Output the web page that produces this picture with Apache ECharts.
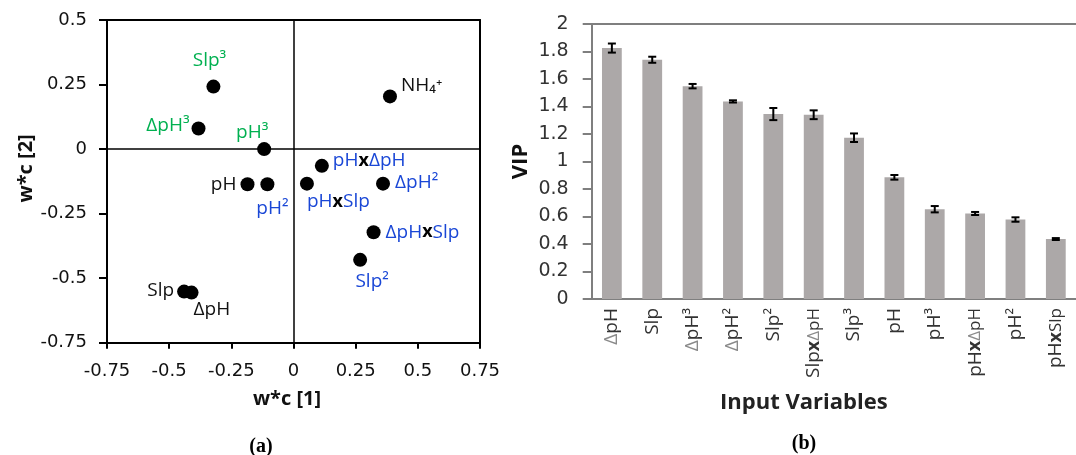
<!DOCTYPE html>
<html>
<head>
<meta charset="utf-8">
<script src="https://cdn.jsdelivr.net/npm/echarts@6/dist/echarts.min.js"></script>
<style>
  html, body { margin: 0; padding: 0; background: #fff; }
  #chart { width: 1076px; height: 455px; }
</style>
</head>
<body>
<div id="chart"></div>
<script>
// (a) PLS loading weights w*c for the first two components
const loadingNames = ['NH₄⁺', 'Slp³', 'ΔpH³', 'pH³', 'pHxΔpH', 'pH', 'pH²', 'pHxSlp', 'ΔpH²', 'ΔpHxSlp', 'Slp²', 'Slp', 'ΔpH'];
const wc1 = [0.388, -0.322, -0.382, -0.118, 0.114, -0.185, -0.105, 0.054, 0.360, 0.322, 0.268, -0.440, -0.410];
const wc2 = [0.204, 0.242, 0.080, 0.000, -0.065, -0.136, -0.136, -0.134, -0.134, -0.322, -0.429, -0.552, -0.556];
const wcTicks = [-0.75, -0.5, -0.25, 0, 0.25, 0.5, 0.75];

// (b) variable importance in projection, with error bars
const vipVars = ['ΔpH', 'Slp', 'ΔpH³', 'ΔpH²', 'Slp²', 'SlpxΔpH', 'Slp³', 'pH', 'pH³', 'pHxΔpH', 'pH²', 'pHxSlp'];
const vipMean = [1.825, 1.740, 1.548, 1.437, 1.345, 1.340, 1.173, 0.885, 0.653, 0.622, 0.578, 0.436];
const vipErr  = [0.033, 0.022, 0.016, 0.008, 0.044, 0.032, 0.031, 0.017, 0.023, 0.011, 0.016, 0.007];
const vipTicks = [0, 0.2, 0.4, 0.6, 0.8, 1, 1.2, 1.4, 1.6, 1.8, 2];

// label colour groups and placement (anchor offset from the marker centre)
const GREEN = '#00b050', BLUE = '#1a47d6', BLACK = '#111111';
const labelLayout = {
  'NH₄⁺':    { color: BLACK, align: 'left',   dx: 11,  dy: -11 },
  'Slp³':    { color: GREEN, align: 'center', dx: -4,  dy: -26 },
  'ΔpH³':    { color: GREEN, align: 'right',  dx: -9,  dy: -3 },
  'pH³':     { color: GREEN, align: 'center', dx: -12, dy: -16 },
  'pHxΔpH':  { color: BLUE,  align: 'left',   dx: 11,  dy: -5 },
  'pH':      { color: BLACK, align: 'right',  dx: -11, dy: 0 },
  'pH²':     { color: BLUE,  align: 'center', dx: 5,   dy: 24 },
  'pHxSlp':  { color: BLUE,  align: 'left',   dx: 0,   dy: 18 },
  'ΔpH²':    { color: BLUE,  align: 'left',   dx: 12,  dy: -1 },
  'ΔpHxSlp': { color: BLUE,  align: 'left',   dx: 12,  dy: 0 },
  'Slp²':    { color: BLUE,  align: 'center', dx: 12,  dy: 22 },
  'Slp':     { color: BLACK, align: 'right',  dx: -10, dy: -1 },
  'ΔpH':     { color: BLACK, align: 'left',   dx: 2,   dy: 17 }
};

const SANS = '"Open Sans", sans-serif';
const NUM = '"DejaVu Sans", sans-serif';
const SERIF = '"Liberation Serif", serif';

function richName(s) {
  const i = s.indexOf('x');
  if (i < 0) return '{t|' + s + '}';
  return '{t|' + s.slice(0, i) + '}{x|x}{t|' + s.slice(i + 1) + '}';
}

const scatterData = loadingNames.map((n, i) => {
  const l = labelLayout[n];
  return {
    name: n,
    value: [wc1[i], wc2[i]],
    label: {
      show: true,
      position: 'inside',
      align: l.align,
      verticalAlign: 'middle',
      offset: [l.dx, l.dy],
      formatter: richName(n),
      rich: {
        t: { color: l.color, fontSize: 19, fontFamily: SANS },
        x: { color: '#000', fontSize: 18, fontFamily: SANS, fontWeight: 'bold' }
      }
    }
  };
});

// category labels: Δ drawn lighter, the part after "x" slightly smaller
function varLabel(s) {
  const tok = (str, small) => str.split(/(Δ)/).filter(Boolean)
    .map(seg => seg === 'Δ' ? '{' + (small ? 'sd' : 'd') + '|Δ}' : '{' + (small ? 's' : 'n') + '|' + seg + '}')
    .join('');
  const i = s.indexOf('x');
  if (i < 0) return tok(s, false);
  return tok(s.slice(0, i), false) + '{x|x}' + tok(s.slice(i + 1), true);
}

const chart = echarts.init(document.getElementById('chart'), null, { renderer: 'canvas' });

const boxLine = { show: true, onZero: false, lineStyle: { color: '#000', width: 2 } };
const greyAxis = { show: true, onZero: false, lineStyle: { color: '#7f7f7f', width: 2 } };

chart.setOption({
  backgroundColor: '#fff',
  animation: false,
  title: [
    { text: '(a)', left: 256, top: 432, textAlign: 'center',
      textStyle: { fontFamily: SERIF, fontWeight: 'bold', fontSize: 20, color: '#000' } },
    { text: '(b)', left: 799, top: 429, textAlign: 'center',
      textStyle: { fontFamily: SERIF, fontWeight: 'bold', fontSize: 20, color: '#000' } }
  ],
  grid: [
    { left: 107, top: 20, width: 373, height: 322.7 },
    { left: 591.7, top: 24, width: 490, height: 275 }
  ],
  xAxis: [
    {
      gridIndex: 0, type: 'value', position: 'bottom',
      min: wcTicks[0], max: wcTicks[wcTicks.length - 1], interval: 0.25,
      axisLine: boxLine,
      axisTick: { show: true, inside: false, length: 6, lineStyle: { color: '#000', width: 2 } },
      axisLabel: { margin: 20, fontSize: 18, fontFamily: NUM, color: '#111' },
      splitLine: { show: false },
      name: 'w*c [1]', nameLocation: 'middle', nameGap: 47,
      nameTextStyle: { fontSize: 20, fontWeight: 'bold', fontFamily: SANS, color: '#111', padding: [0, 13, 0, 0] }
    },
    {
      gridIndex: 0, type: 'value', position: 'top',
      min: wcTicks[0], max: wcTicks[wcTicks.length - 1],
      axisLine: boxLine, axisTick: { show: false }, axisLabel: { show: false }, splitLine: { show: false }
    },
    {
      gridIndex: 1, type: 'category', data: vipVars, position: 'bottom',
      axisLine: greyAxis,
      axisTick: { show: false },
      axisLabel: {
        rotate: 90, margin: 9, interval: 0,
        formatter: varLabel,
        rich: {
          n: { color: '#333333', fontSize: 19, fontFamily: SANS },
          d: { color: '#8a8a8a', fontSize: 19, fontFamily: SANS },
          s: { color: '#333333', fontSize: 17, fontFamily: SANS },
          sd: { color: '#8a8a8a', fontSize: 17, fontFamily: SANS },
          x: { color: '#333333', fontSize: 18, fontFamily: SANS, fontWeight: 'bold' }
        }
      },
      name: 'Input Variables', nameLocation: 'middle', nameGap: 93,
      nameTextStyle: { fontSize: 22, fontWeight: 'bold', fontFamily: SANS, color: '#222', padding: [0, 60, 0, 0] }
    },
    {
      gridIndex: 1, type: 'category', data: vipVars, position: 'top',
      axisLine: greyAxis, axisTick: { show: false }, axisLabel: { show: false }, splitLine: { show: false }
    }
  ],
  yAxis: [
    {
      gridIndex: 0, type: 'value', position: 'left',
      min: -0.75, max: 0.5, interval: 0.25,
      axisLine: boxLine,
      axisTick: { show: true, inside: false, length: 8, lineStyle: { color: '#000', width: 2 } },
      axisLabel: { margin: 20, fontSize: 18, fontFamily: NUM, color: '#111' },
      splitLine: { show: false },
      name: 'w*c [2]', nameLocation: 'middle', nameGap: 66, nameRotate: 90,
      nameTextStyle: { fontSize: 20, fontWeight: 'bold', fontFamily: SANS, color: '#111', padding: [0, 0, 0, 26] }
    },
    {
      gridIndex: 0, type: 'value', position: 'right',
      min: -0.75, max: 0.5,
      axisLine: boxLine, axisTick: { show: false }, axisLabel: { show: false }, splitLine: { show: false }
    },
    {
      gridIndex: 1, type: 'value', position: 'left',
      min: vipTicks[0], max: vipTicks[vipTicks.length - 1], interval: 0.2,
      axisLine: greyAxis,
      axisTick: { show: true, inside: false, length: 9, lineStyle: { color: '#7f7f7f', width: 2 } },
      axisLabel: { margin: 23, fontSize: 19, fontFamily: NUM, color: '#333' },
      splitLine: { show: false },
      name: 'VIP', nameLocation: 'middle', nameGap: 60, nameRotate: 90,
      nameTextStyle: { fontSize: 22, fontWeight: 'bold', fontFamily: SANS, color: '#111' }
    }
  ],
  series: [
    {
      type: 'scatter', xAxisIndex: 0, yAxisIndex: 0,
      symbol: 'circle', symbolSize: 14,
      itemStyle: { color: '#000', opacity: 1 },
      data: scatterData,
      markLine: {
        silent: true, symbol: 'none',
        label: { show: false },
        lineStyle: { color: '#000', width: 1.5, type: 'solid' },
        data: [{ xAxis: 0 }, { yAxis: 0 }]
      },
      z: 3
    },
    {
      type: 'bar', xAxisIndex: 2, yAxisIndex: 2,
      data: vipMean,
      barWidth: '49%',
      itemStyle: { color: '#aca8a8' },
      z: 2
    },
    {
      type: 'custom', xAxisIndex: 2, yAxisIndex: 2,
      data: vipMean.map((m, i) => [i, m - vipErr[i], m + vipErr[i]]),
      renderItem: function (params, api) {
        const lo = api.coord([api.value(0), api.value(1)]);
        const hi = api.coord([api.value(0), api.value(2)]);
        const half = 4;
        const style = { stroke: '#000', lineWidth: 2 };
        return {
          type: 'group',
          children: [
            { type: 'line', shape: { x1: lo[0], y1: lo[1], x2: hi[0], y2: hi[1] }, style: style },
            { type: 'line', shape: { x1: lo[0] - half, y1: lo[1], x2: lo[0] + half, y2: lo[1] }, style: style },
            { type: 'line', shape: { x1: hi[0] - half, y1: hi[1], x2: hi[0] + half, y2: hi[1] }, style: style }
          ]
        };
      },
      z: 4
    }
  ]
});
</script>
</body>
</html>
